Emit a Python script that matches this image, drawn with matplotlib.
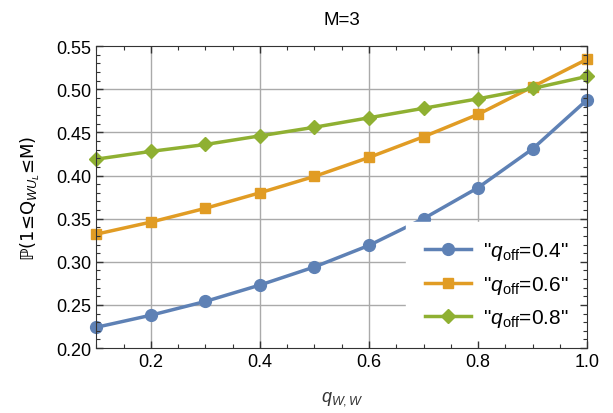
import numpy as np
import matplotlib
matplotlib.use("Agg")
import matplotlib.pyplot as plt
from matplotlib.ticker import MultipleLocator, FormatStrFormatter

plt.rcParams['font.family'] = ['Liberation Sans', 'DejaVu Sans']
plt.rcParams['mathtext.fontset'] = 'custom'
plt.rcParams['mathtext.rm'] = 'Liberation Sans'
plt.rcParams['mathtext.it'] = 'Liberation Sans:italic'
plt.rcParams['mathtext.bf'] = 'Liberation Sans:bold'

q_ww = [0.1, 0.2, 0.3, 0.4, 0.5, 0.6, 0.7, 0.8, 0.9, 1.0]
p_q04 = [0.224, 0.238, 0.254, 0.273, 0.294, 0.319, 0.350, 0.386, 0.431, 0.488]
p_q06 = [0.332, 0.346, 0.362, 0.380, 0.399, 0.421, 0.445, 0.471, 0.503, 0.535]
p_q08 = [0.419, 0.428, 0.436, 0.446, 0.456, 0.467, 0.478, 0.489, 0.501, 0.515]
labels = ['"$q_{\\mathrm{off}}$=0.4"', '"$q_{\\mathrm{off}}$=0.6"', '"$q_{\\mathrm{off}}$=0.8"']
x_ticks = [0.2, 0.4, 0.6, 0.8, 1.0]
y_grid = [0.25, 0.30, 0.35, 0.40, 0.45, 0.50]

blue, orange, green = '#5E81B5', '#E19C24', '#8FB032'

fig = plt.figure(figsize=(6.13, 4.14), dpi=100)
ax = fig.add_axes([0.157, 0.157, 0.801, 0.729])

# grid drawn by hand so the legend can sit over it but under the ticks
for x in x_ticks[:-1]:
    ax.axvline(x, color='#aaaaaa', lw=1, zorder=1)
for y in y_grid:
    ax.axhline(y, color='#aaaaaa', lw=1, zorder=1)

ax.plot(q_ww, p_q04, color=blue, lw=2.5, marker='o', ms=8.5, label=labels[0], clip_on=False, zorder=3)
ax.plot(q_ww, p_q06, color=orange, lw=2.5, marker='s', ms=6.5, label=labels[1], clip_on=False, zorder=3)
ax.plot(q_ww, p_q08, color=green, lw=2.5, marker='D', ms=7.5, label=labels[2], clip_on=False, zorder=3)

ax.set_xlim(0.1, 1.0)
ax.set_ylim(0.20, 0.55)
ax.set_xticks(x_ticks)
ax.set_xticklabels(['0.2', '0.4', '0.6', '0.8', '1.0'])
ax.xaxis.set_minor_locator(MultipleLocator(0.05))
ax.yaxis.set_major_locator(MultipleLocator(0.05))
ax.yaxis.set_minor_locator(MultipleLocator(0.01))
ax.yaxis.set_major_formatter(FormatStrFormatter('%.2f'))

ax.tick_params(which='both', direction='in', top=True, right=True, labelsize=13, color='#333333')
ax.tick_params(which='major', length=5, width=1)
ax.tick_params(which='minor', length=3, width=0.8)
for s in ax.spines.values():
    s.set_color('#333333')
    s.set_zorder(6)
ax.xaxis.set_zorder(6)
ax.yaxis.set_zorder(6)

ax.set_title('M=3', fontsize=13.5, pad=16)
ax.set_xlabel('$q_{W,W}$', fontsize=13, color='#333333', labelpad=14)
ax.set_ylabel('ℙ(1≤Q$_{WU_L}$≤M)', fontsize=13, labelpad=10, family=['DejaVu Sans'])

leg = ax.legend(loc='lower right', fontsize=15, frameon=True, fancybox=False,
                framealpha=1, edgecolor='white', borderaxespad=0.0,
                handlelength=2.2, handletextpad=0.6, labelspacing=0.55, borderpad=0.9)
leg.set_zorder(5)

fig.savefig('out.png', dpi=100)
